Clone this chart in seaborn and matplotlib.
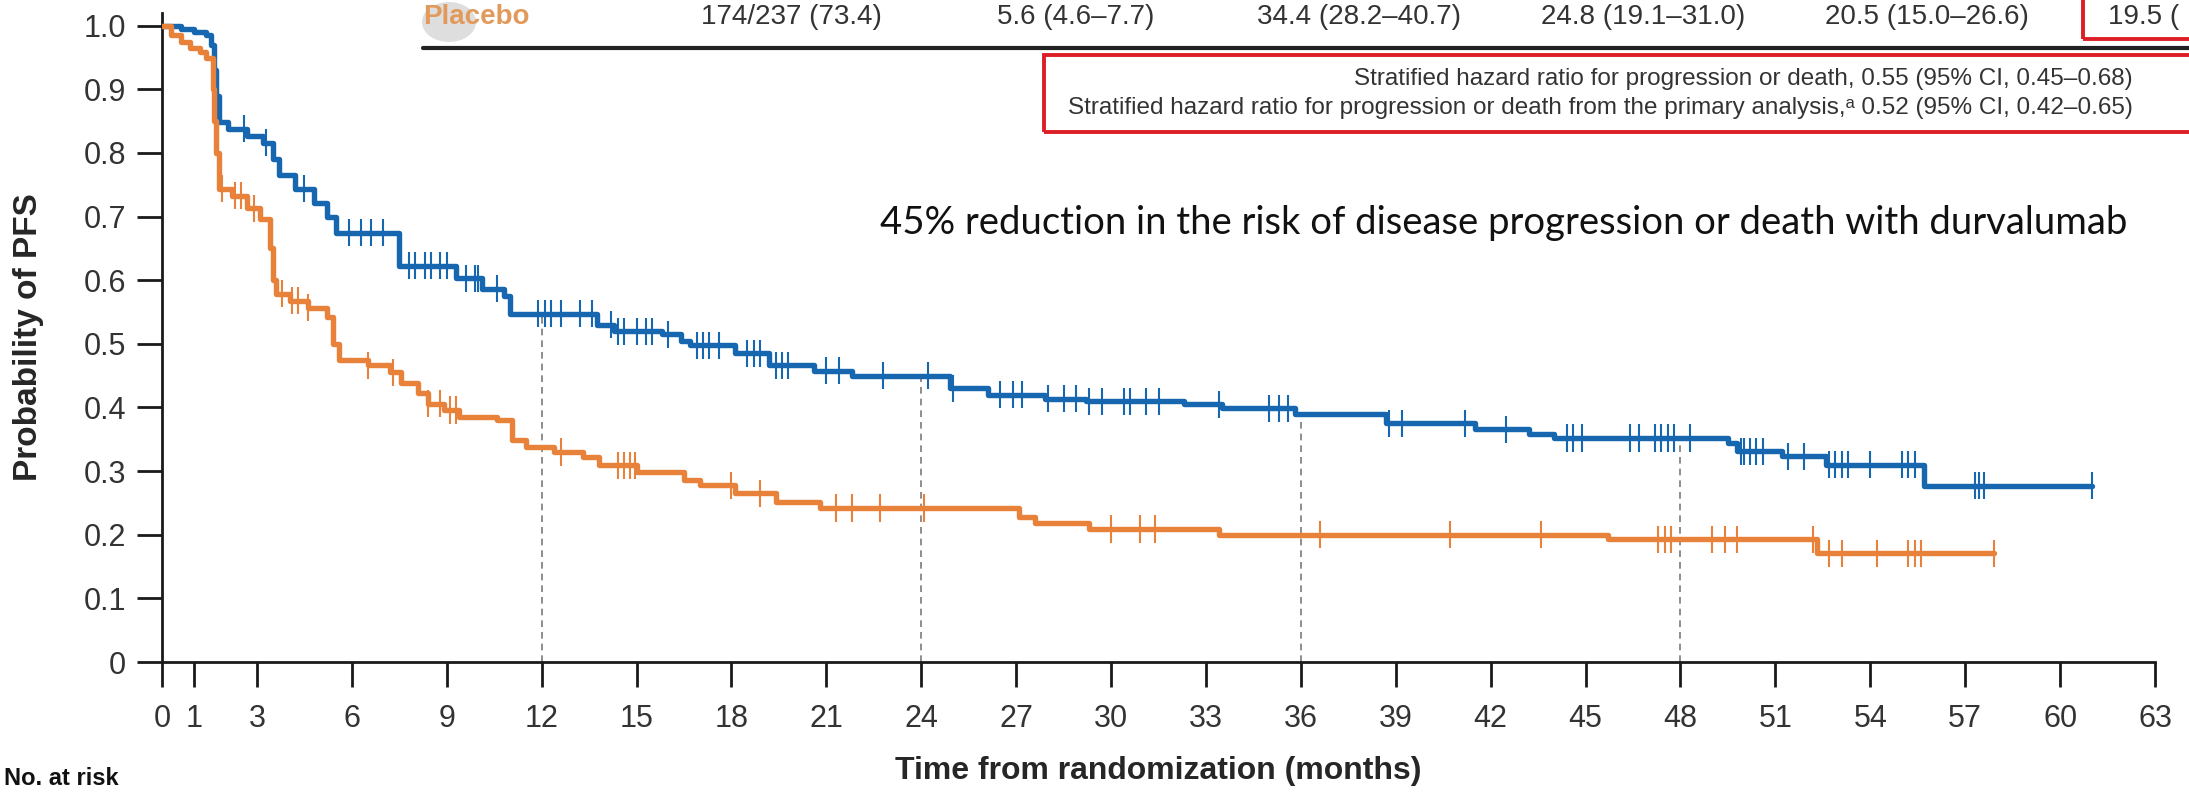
import numpy as np
import pandas as pd
import matplotlib
matplotlib.use("Agg")
import matplotlib.pyplot as plt
from matplotlib.patches import Rectangle, Ellipse
from matplotlib.lines import Line2D
import seaborn as sns

W, H, DPI = 2189, 793, 100

# ---- Kaplan-Meier step points (months, probability of PFS) ----
durva_time = [0, 0.6, 1.0, 1.4, 1.55, 1.65, 1.72, 1.8, 2.1, 2.7, 3.2, 3.5, 3.7, 4.2, 4.8,
              5.2, 5.5, 7.1, 7.5, 9.3, 10.1, 10.8, 11.0, 13.75, 14.3, 15.8, 16.4, 16.7,
              18.1, 19.2, 20.6, 21.8, 24.0, 24.9, 26.1, 27.9, 29.2, 32.3, 33.5, 35.8,
              38.7, 41.5, 43.2, 44.0, 49.5, 49.8, 51.2, 52.6, 55.7]
durva_surv = [1.0, 0.995, 0.99, 0.985, 0.97, 0.93, 0.89, 0.848, 0.838, 0.827, 0.816, 0.79,
              0.765, 0.744, 0.722, 0.70, 0.675, 0.675, 0.623, 0.603, 0.587, 0.576, 0.547,
              0.53, 0.52, 0.515, 0.505, 0.498, 0.485, 0.466, 0.458, 0.45, 0.45, 0.43,
              0.42, 0.414, 0.41, 0.405, 0.399, 0.39, 0.375, 0.366, 0.358, 0.352, 0.344,
              0.331, 0.323, 0.31, 0.277]
durva_end = 61.0
durva_censor = [2.6, 3.3, 4.5, 5.9, 6.3, 6.6, 7.0, 7.8, 8.0, 8.3, 8.5, 8.8, 9.0, 9.6, 9.9,
                10.0, 10.6, 11.9, 12.1, 12.3, 12.6, 13.2, 13.6, 14.2, 14.4, 14.6, 15.0,
                15.3, 15.5, 16.0, 16.9, 17.1, 17.3, 17.6, 18.5, 18.7, 18.9, 19.4, 19.6,
                19.8, 21.0, 21.4, 22.8, 24.2, 25.0, 26.5, 26.9, 27.2, 28.0, 28.5, 28.9,
                29.3, 29.7, 30.4, 30.6, 31.1, 31.5, 33.4, 35.0, 35.3, 35.6, 38.8, 39.2,
                41.2, 42.5, 44.4, 44.6, 44.9, 46.4, 46.7, 47.2, 47.4, 47.6, 47.8, 48.3,
                49.9, 50.0, 50.2, 50.4, 50.6, 51.4, 51.9, 52.7, 52.9, 53.1, 53.3, 54.0,
                55.0, 55.2, 55.4, 57.3, 57.45, 57.6, 61.0]

placebo_time = [0, 0.3, 0.6, 0.9, 1.2, 1.4, 1.6, 1.65, 1.7, 1.8, 2.2, 2.7, 3.1, 3.4, 3.5,
                3.6, 4.05, 4.6, 5.2, 5.4, 5.6, 6.5, 7.2, 7.55, 8.1, 8.4, 8.9, 9.4, 10.6,
                11.05, 11.5, 12.4, 13.3, 13.8, 15.0, 16.5, 17.0, 18.1, 19.4, 20.8, 27.1,
                27.6, 29.3, 33.4, 45.7, 52.3]
placebo_surv = [1.0, 0.985, 0.975, 0.965, 0.958, 0.95, 0.90, 0.85, 0.80, 0.744, 0.733,
                0.713, 0.697, 0.65, 0.60, 0.579, 0.568, 0.557, 0.542, 0.50, 0.474, 0.466,
                0.455, 0.438, 0.422, 0.406, 0.396, 0.385, 0.38, 0.349, 0.338, 0.33, 0.322,
                0.309, 0.298, 0.286, 0.278, 0.265, 0.251, 0.242, 0.228, 0.218, 0.209, 0.20,
                0.193, 0.171]
placebo_end = 57.9
placebo_censor = [1.9, 2.3, 2.5, 2.9, 3.8, 4.1, 4.3, 4.6, 6.5, 7.3, 8.4, 8.8, 9.1, 9.3,
                  12.6, 14.4, 14.6, 14.8, 14.95, 18.0, 18.9, 21.3, 21.8, 22.7, 24.1, 30.0,
                  30.9, 31.4, 36.6, 40.7, 43.6, 47.3, 47.5, 47.7, 49.0, 49.4, 49.8, 52.2,
                  52.7, 53.1, 54.2, 55.2, 55.4, 55.6, 57.9]

landmarks = [12, 24, 36, 48]
x_ticks = [0, 1] + list(range(3, 64, 3))
y_ticks = [round(v * 0.1, 1) for v in range(11)]
y_tick_labels = ["0"] + [f"{v:.1f}" for v in y_ticks[1:]]

placebo_row = ["174/237 (73.4)", "5.6 (4.6\u20137.7)", "34.4 (28.2\u201340.7)",
               "24.8 (19.1\u201331.0)", "20.5 (15.0\u201326.6)", "19.5 ("]
hr_lines = ["Stratified hazard ratio for progression or death, 0.55 (95% CI, 0.45\u20130.68)",
            "Stratified hazard ratio for progression or death from the primary analysis,\u1d43 0.52 (95% CI, 0.42\u20130.65)"]
headline = "45% reduction in the risk of disease progression or death with durvalumab"

BLUE = "#1767b0"
ORANGE = "#e8823a"
RED = "#dc1f26"


def step_value(times, surv, t):
    i = np.searchsorted(np.asarray(times), t, side="right") - 1
    return np.asarray(surv)[i]


def km_frame(arm, times, surv, end):
    t = list(times) + [end]
    s = list(surv) + [surv[-1]]
    return pd.DataFrame({"arm": arm, "time": t, "surv": s})


def censor_frame(arm, times, surv, cens):
    return pd.DataFrame({"arm": arm, "time": cens,
                         "surv": [step_value(times, surv, c) for c in cens]})


curves = pd.concat([km_frame("Durvalumab", durva_time, durva_surv, durva_end),
                    km_frame("Placebo", placebo_time, placebo_surv, placebo_end)])
censors = pd.concat([censor_frame("Durvalumab", durva_time, durva_surv, durva_censor),
                     censor_frame("Placebo", placebo_time, placebo_surv, placebo_censor)])
palette = {"Durvalumab": BLUE, "Placebo": ORANGE}

sns.set_style("ticks")
plt.rcParams["font.family"] = ["Liberation Sans", "DejaVu Sans"]

fig = plt.figure(figsize=(W / DPI, H / DPI), dpi=DPI)
fig.patch.set_facecolor("white")


def fx(x):
    return x / W


def fy(y):
    return 1 - y / H


ax = fig.add_axes([fx(162), fy(662), fx(2155) - fx(162), fy(13) - fy(662)])

# landmark guides up to the durvalumab curve
for m in landmarks:
    ax.plot([m, m], [0, step_value(durva_time, durva_surv, m)], color="#7a7a7a",
            lw=1.2, ls=(0, (4, 3)), zorder=1)

sns.lineplot(data=curves, x="time", y="surv", hue="arm", palette=palette,
             estimator=None, drawstyle="steps-post", linewidth=3.9, legend=False,
             ax=ax, zorder=3)
sns.scatterplot(data=censors, x="time", y="surv", hue="arm", palette=palette,
                marker="|", s=380, linewidth=1.5, legend=False, ax=ax, zorder=4)

ax.set_xlim(0, 63)
ax.set_ylim(0, 1.02)
ax.set_xticks(x_ticks)
ax.set_xticklabels([str(v) for v in x_ticks])
ax.set_yticks(y_ticks)
ax.set_yticklabels(y_tick_labels)
for side in ("top", "right"):
    ax.spines[side].set_visible(False)
for side in ("left", "bottom"):
    ax.spines[side].set_linewidth(2.0)
    ax.spines[side].set_color("#1a1a1a")
ax.tick_params(axis="x", length=18, width=2.0, pad=12, labelsize=22, colors="#1a1a1a",
               labelcolor="#333333")
ax.tick_params(axis="y", length=18, width=2.0, pad=8, labelsize=22, colors="#1a1a1a",
               labelcolor="#333333")
ax.set_xlabel("Time from randomization (months)", fontsize=23, fontweight="bold",
              labelpad=16)
ax.set_ylabel("Probability of PFS", fontsize=24, fontweight="bold")
ax.yaxis.set_label_coords((44 - 162) / (2155 - 162), 0.5)

# table row above the plot
fig.patches.append(Ellipse((fx(449), fy(22)), 54 / W, 40 / H,
                           transform=fig.transFigure, facecolor="#dedede",
                           edgecolor="none", zorder=0))
fig.text(fx(423), fy(17), "Placebo", fontsize=20, fontweight="bold", color="#e29a5c",
         va="center", ha="left")
for label, x0 in zip(placebo_row, [701, 997, 1257, 1541, 1825, 2108]):
    fig.text(fx(x0), fy(17), label, fontsize=20, color="#333333", va="center", ha="left")
fig.lines.append(Line2D([fx(423), fx(2189)], [fy(48), fy(48)], transform=fig.transFigure,
                        color="#222222", lw=3.0))

# hazard ratio box (runs on past the right edge)
fig.patches.append(Rectangle((fx(1044), fy(132)), fx(2260) - fx(1044), (132 - 55) / H,
                             transform=fig.transFigure, fill=False, edgecolor=RED, lw=2.8))
fig.patches.append(Rectangle((fx(2083), fy(39)), fx(2260) - fx(2083), 60 / H,
                             transform=fig.transFigure, fill=False, edgecolor=RED, lw=2.8))
hr2 = fig.text(fx(1068), fy(108), hr_lines[1], fontsize=17.5, color="#333333",
               va="center", ha="left")
renderer = fig.canvas.get_renderer()
right_px = hr2.get_window_extent(renderer).x1
fig.text(right_px / W, fy(79), hr_lines[0], fontsize=17.5, color="#333333",
         va="center", ha="right")

fig.text(fx(880), fy(223), headline, fontsize=27.5, color="#111111", va="center",
         ha="left", family=["Lato", "DejaVu Sans"])

fig.text(fx(4), fy(790), "No. at risk", fontsize=17, fontweight="bold", color="#111111",
         va="bottom", ha="left")

fig.savefig("out.png", dpi=DPI, facecolor="white")
